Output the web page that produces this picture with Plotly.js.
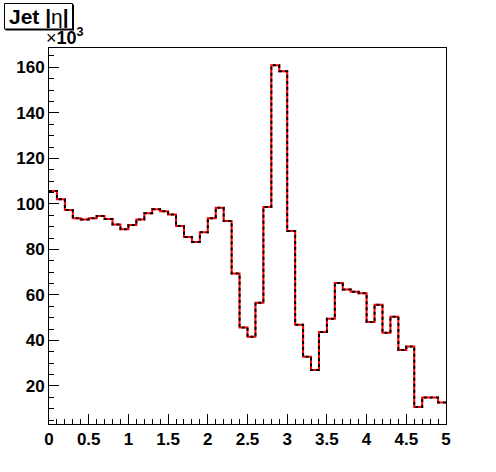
<!DOCTYPE html>
<html>
<head>
<meta charset="utf-8">
<script src="https://cdn.plot.ly/plotly-3.0.1.min.js"></script>
<style>html,body{margin:0;padding:0;background:#fff;}#chart{width:496px;height:472px;}</style>
</head>
<body>
<div id="chart"></div>
<script>
// Histogram: Jet |eta|, 50 bins from 0 to 5, counts in units of 10^3
const xMin = 0;
const xMax = 5;
const counts = [
  105.7, 102.1, 97.3, 93.7, 93.2, 93.7, 94.7, 93.4, 90.9, 88.9,
  90.7, 93.2, 95.9, 97.6, 96.8, 95.3, 90.3, 85.5, 83.3, 87.5,
  93.7, 98.3, 92.5, 69.4, 45.7, 41.6, 56.6, 98.6, 160.9, 158.3,
  88.1, 46.9, 32.9, 27.0, 43.7, 49.5, 65.3, 62.4, 61.4, 60.8,
  48.1, 55.7, 43.4, 50.4, 35.8, 37.4, 10.8, 14.9, 14.9, 12.7
];
const yTickVals = [20, 40, 60, 80, 100, 120, 140, 160];
const xTickVals = [0, 0.5, 1, 1.5, 2, 2.5, 3, 3.5, 4, 4.5, 5];

const nBins = counts.length;
const binW = (xMax - xMin) / nBins;
const edges = [];
for (let i = 0; i <= nBins; i++) edges.push(+(xMin + i * binW).toFixed(6));
const levels = counts.concat([counts[nBins - 1]]);

const traces = [
  {x: edges, y: levels, type: 'scatter', mode: 'lines', line: {shape: 'hv', color: '#ff0000', width: 2}, hoverinfo: 'skip'},
  {x: edges, y: levels, type: 'scatter', mode: 'lines', line: {shape: 'hv', color: '#000000', width: 2, dash: '3px,3px'}, hoverinfo: 'skip'}
];

const tickFont = {family: 'Liberation Sans, Arial, sans-serif', size: 17, color: '#000', weight: 'bold'};
const W = 496, H = 472, mL = 49, mR = 50, mT = 48, mB = 48;
const pw = W - mL - mR, ph = H - mT - mB;
const px = p => (p - mL) / pw;
const py = p => (H - mB - p) / ph;

const layout = {
  width: W, height: H,
  margin: {l: mL, r: mR, t: mT, b: mB, pad: 0},
  paper_bgcolor: '#fff', plot_bgcolor: '#fff',
  showlegend: false,
  xaxis: {
    range: [xMin, xMax], tickvals: xTickVals, ticktext: xTickVals.map(String),
    ticks: 'inside', ticklen: 10, tickwidth: 1, tickcolor: '#000',
    minor: {dtick: 0.1, ticks: 'inside', ticklen: 5, tickwidth: 1, tickcolor: '#000', showgrid: false},
    showline: true, linecolor: '#000', linewidth: 1, mirror: true,
    showgrid: false, zeroline: false, tickfont: tickFont
  },
  yaxis: {
    range: [3.3, 168.5], tickvals: yTickVals, ticktext: yTickVals.map(String),
    ticks: 'inside', ticklen: 10, tickwidth: 1, tickcolor: '#000',
    minor: {dtick: 5, ticks: 'inside', ticklen: 5, tickwidth: 1, tickcolor: '#000', showgrid: false},
    showline: true, linecolor: '#000', linewidth: 1, mirror: true,
    showgrid: false, zeroline: false, tickfont: tickFont
  },
  shapes: [
    {type: 'rect', xref: 'paper', yref: 'paper', x0: px(5.5), x1: px(74), y0: py(4.5), y1: py(30.5),
     fillcolor: '#000', line: {width: 0}},
    {type: 'rect', xref: 'paper', yref: 'paper', x0: px(4.5), x1: px(72.5), y0: py(3.5), y1: py(29),
     fillcolor: '#fff', line: {color: '#000', width: 1}}
  ],
  annotations: [
    {xref: 'paper', yref: 'paper', x: px(38.5), y: py(16), xanchor: 'center', yanchor: 'middle',
     text: '<b>Jet |</b>η<b>|</b>', showarrow: false,
     font: {family: 'Liberation Sans, Arial, sans-serif', size: 21, color: '#000'}},
    {xref: 'paper', yref: 'paper', x: px(45), y: py(37), xanchor: 'left', yanchor: 'middle',
     text: '×<b>10<sup>3</sup></b>', showarrow: false, borderpad: 0,
     font: {family: 'Liberation Sans, Arial, sans-serif', size: 18, color: '#000'}}
  ]
};

Plotly.newPlot('chart', traces, layout, {displayModeBar: false, staticPlot: true});
</script>
</body>
</html>
